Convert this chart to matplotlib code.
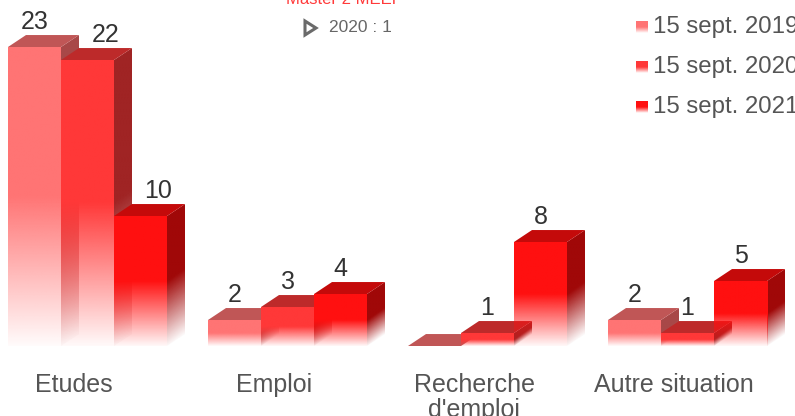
import numpy as np
import matplotlib.pyplot as plt
from matplotlib.patches import Polygon
from matplotlib.colors import to_rgb

plt.rcParams['font.family'] = ['Liberation Sans', 'DejaVu Sans']

# ---- data ----
categories = ["Etudes", "Emploi", "Recherche\nd'emploi", "Autre situation"]
series_names = ["15 sept. 2019", "15 sept. 2020", "15 sept. 2021"]
v2019 = [23, 2, 0, 2]
v2020 = [22, 3, 1, 1]
v2021 = [10, 4, 8, 5]
values = [v2019, v2020, v2021]

# colours: front, top, side
front_col = ["#ff7474", "#ff3838", "#ff1010"]
top_col = ["#c05656", "#bd2a2a", "#c40a0a"]
side_col = ["#a84848", "#a02424", "#a00808"]

# geometry (1 x unit = 200 px, 1 y unit = 13 px)
bw = 0.265
dx = 0.09
dy = 0.92
shifted = {(0, 1), (0, 2)}   # labels moved to back of bar


def grad_alpha(t):
    # t = 0 at top, 1 at bottom
    return np.where(t < 0.5, 1.0, 1.0 - (t - 0.5) / 0.5 * 0.97)


fig = plt.figure(figsize=(7.95, 4.16), dpi=100)
ax = fig.add_axes([0, 0, 1, 1])
ax.set_autoscale_on(False)
ax.set_xlim(-0.4375, 3.5375)
ax.set_ylim(-70 / 13, 346 / 13)
ax.axis("off")

for g in range(len(categories)):
    for s in range(3):
        v = values[s][g]
        l = g - 1.5 * bw + s * bw
        r = l + bw
        z = 2 + s * 3
        rgb = to_rgb(front_col[s])
        if v > 0:
            # front face with fade to white
            t = np.linspace(0, 1, 200)
            img = np.zeros((200, 1, 4))
            img[:, 0, :3] = rgb
            img[:, 0, 3] = grad_alpha(t)
            ax.imshow(img, extent=(l, r, 0, v), origin="upper",
                      aspect="auto", zorder=z + 1, interpolation="bilinear")
            # side face
            srgb = to_rgb(side_col[s])
            ny, nx = 200, 12
            ys = np.linspace(v + dy, 0, ny)
            fs = np.linspace(0, 1, nx)
            Y, F = np.meshgrid(ys, fs, indexing="ij")
            tt = np.clip((v + F * dy - Y) / v, 0, 1)
            simg = np.zeros((ny, nx, 4))
            simg[..., :3] = srgb
            simg[..., 3] = grad_alpha(tt)
            side = Polygon([(r, 0), (r + dx, dy), (r + dx, v + dy), (r, v)],
                           closed=True, facecolor="none", edgecolor="none")
            ax.add_patch(side)
            im = ax.imshow(simg, extent=(r, r + dx, 0, v + dy), origin="upper",
                           aspect="auto", zorder=z, interpolation="bilinear")
            im.set_clip_path(side)
        # top face
        ax.add_patch(Polygon([(l, v), (r, v), (r + dx, v + dy), (l + dx, v + dy)],
                             closed=True, facecolor=top_col[s], edgecolor="none",
                             zorder=z + 2))
        # value label
        if v > 0:
            xl = (l + r) / 2 + (dx if (g, s) in shifted else 0)
            ax.text(xl, v + dy + 0.05, str(v), ha="center", va="bottom",
                    fontsize=18, color="#333333", zorder=20)

# category labels
for g, name in enumerate(categories):
    ax.text(g - 0.0675, -2.05, name, ha="center", va="top", fontsize=18,
            color="#555555", linespacing=1.05)

# legend
rows = [0.935, 0.839, 0.743]
for s in range(3):
    rgb = to_rgb(front_col[s])
    img = np.zeros((20, 1, 4))
    img[:, 0, :3] = rgb
    img[:, 0, 3] = grad_alpha(np.linspace(0, 1, 20))
    y0 = rows[s]
    ax.imshow(img, extent=(0.800, 0.815, y0 - 0.014, y0 + 0.014),
              transform=ax.transAxes, origin="upper", aspect="auto", zorder=30)
    ax.text(0.821, y0, series_names[s], transform=ax.transAxes, ha="left",
            va="center", fontsize=17.3, color="#555555")

# cropped title and tooltip
ax.text(0.432, 0.99, "Master 2 MEEF", transform=ax.transAxes, ha="center",
        va="baseline", fontsize=12, color="#ff3a3a")
tri = Polygon([(305 / 795, 1 - 21 / 416), (305 / 795, 1 - 35 / 416),
               (316 / 795, 1 - 28 / 416)], closed=True, facecolor="none",
              edgecolor="#6a6a6a", linewidth=2.2, joinstyle="miter",
              transform=ax.transAxes)
ax.add_patch(tri)
ax.text(0.414, 0.933, "2020 : 1", transform=ax.transAxes, ha="left",
        va="center", fontsize=12.5, color="#666666")

fig.savefig("out.png", dpi=100)
